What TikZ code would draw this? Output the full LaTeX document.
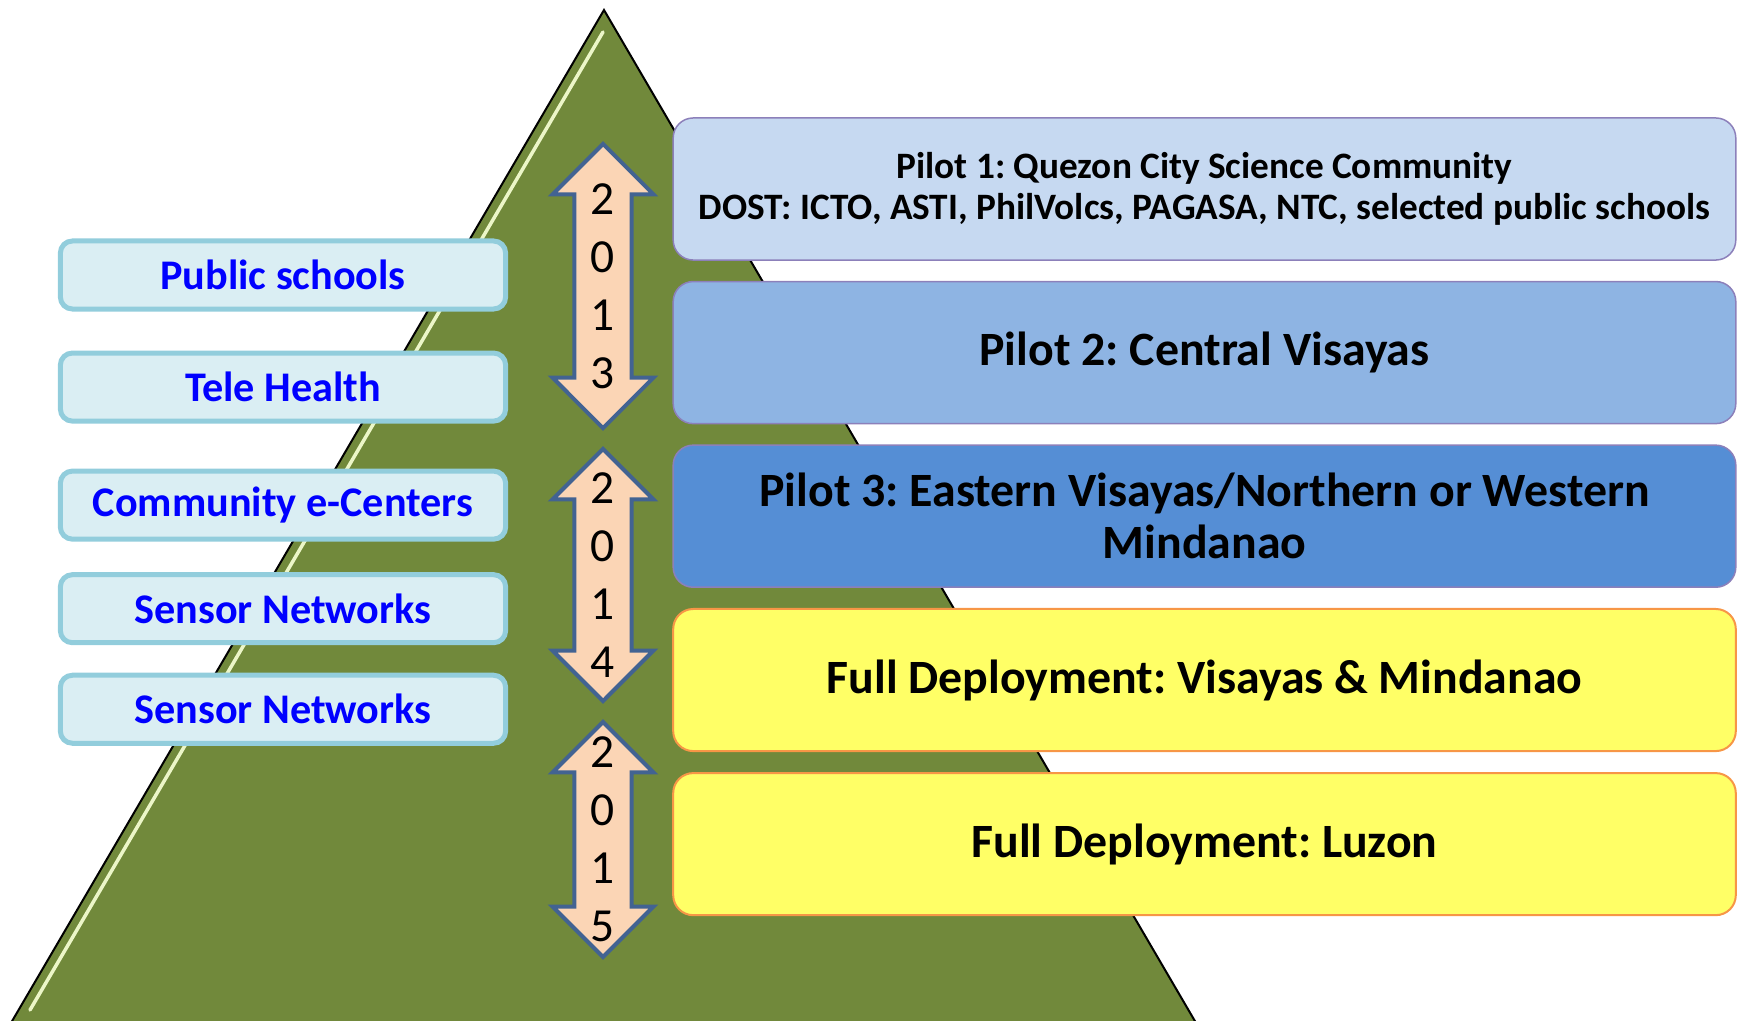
\documentclass[tikz,border=0pt]{standalone}
\usepackage{fontspec}
\setmainfont{Carlito}
\usepackage{xcolor}
\usepackage{tikz}
\usetikzlibrary{positioning, shapes.arrows}
\definecolor{pyrGreen}{RGB}{113,137,59}
\definecolor{bevelLight}{RGB}{236,246,200}
\definecolor{appFill}{RGB}{218,238,243}
\definecolor{appEdge}{RGB}{146,205,220}
\definecolor{arrowFill}{RGB}{251,213,181}
\definecolor{arrowEdge}{RGB}{66,99,146}
\definecolor{pilotEdge}{RGB}{140,128,186}
\definecolor{pilotOneFill}{RGB}{198,217,241}
\definecolor{pilotTwoFill}{RGB}{142,180,227}
\definecolor{pilotThreeFill}{RGB}{85,142,213}
\definecolor{deployFill}{RGB}{255,255,102}
\definecolor{deployEdge}{RGB}{247,150,70}
\frenchspacing

\begin{document}
\begin{tikzpicture}[
        x=0.01cm, y=-0.01cm,
        appBox/.style={rectangle, rounded corners=0.12cm, draw=appEdge, line width=0.05cm, fill=appFill, minimum width=4.45cm, minimum height=0.68cm, text=blue, font=\fontsize{12}{14}\selectfont\bfseries},
        pilotBox/.style={rectangle, rounded corners=0.2cm, draw=pilotEdge, line width=0.015cm, minimum width=10.62cm, minimum height=1.42cm, align=center, font=\fontsize{13.6}{14.8}\selectfont\bfseries},
        deployBox/.style={pilotBox, draw=deployEdge, fill=deployFill, line width=0.02cm},
        yearArrow/.style={double arrow, rotate=90, draw=arrowEdge, line width=0.04cm, fill=arrowFill, double arrow head extend=0.22cm, inner xsep=0pt, inner ysep=0.265cm},
        yearText/.style={align=center, inner sep=0pt, font=\fontsize{13.5}{16.5}\selectfont}
    ]
        \useasboundingbox (0,0) rectangle (1738,1021);

        % Pyramid
        \coordinate (apex) at (604,10);
        \coordinate (baseL) at (1,1040);
        \coordinate (baseR) at (1206,1040);
        \fill[pyrGreen] (baseL) -- (apex) -- (baseR) -- cycle;
        \draw[line width=0.02cm] (baseL) -- (apex) -- (baseR);
        \draw[bevelLight, line width=0.035cm, line cap=round] (603,32) -- (30,1010);

        % Applications
        \node[appBox] (ps) at (283,275) {Public schools};
        \node[appBox, below=0.39cm of ps] (th) {Tele Health};
        \node[appBox, below=0.45cm of th] (cec) {Community e-Centers};
        \node[appBox, below=0.305cm of cec] (sn1) {Sensor Networks};
        \node[appBox, below=0.275cm of sn1] (sn2) {Sensor Networks};

        % Years
        \node[yearArrow, minimum height=2.84cm] (a13) at (603,286) {};
        \node[yearArrow, minimum height=2.52cm] (a14) at (603,575) {};
        \node[yearArrow, minimum height=2.35cm] (a15) at (603,839.5) {};
        \node[yearText] (y13) at (a13) {2\\0\\1\\3};
        \node[yearText] (y14) at (a14) {2\\0\\1\\4};
        \node[yearText] (y15) at (a15) {2\\0\\1\\5};

        % Rollout
        \node[pilotBox, fill=pilotOneFill, font=\fontsize{10.6}{11.6}\selectfont\bfseries] (p1) at (1204.5,189) {Pilot 1: Quezon City Science Community\\DOST: ICTO, ASTI, PhilVolcs, PAGASA, NTC, selected public schools};
        \node[pilotBox, fill=pilotTwoFill, below=0.2cm of p1] (p2) {Pilot 2: Central Visayas};
        \node[pilotBox, fill=pilotThreeFill, below=0.2cm of p2] (p3) {Pilot 3: Eastern Visayas/Northern or Western\\Mindanao};
        \node[deployBox, below=0.2cm of p3] (vm) {Full Deployment: Visayas \& Mindanao};
        \node[deployBox, below=0.2cm of vm] (lz) {Full Deployment: Luzon};

    \end{tikzpicture}
\end{document}
